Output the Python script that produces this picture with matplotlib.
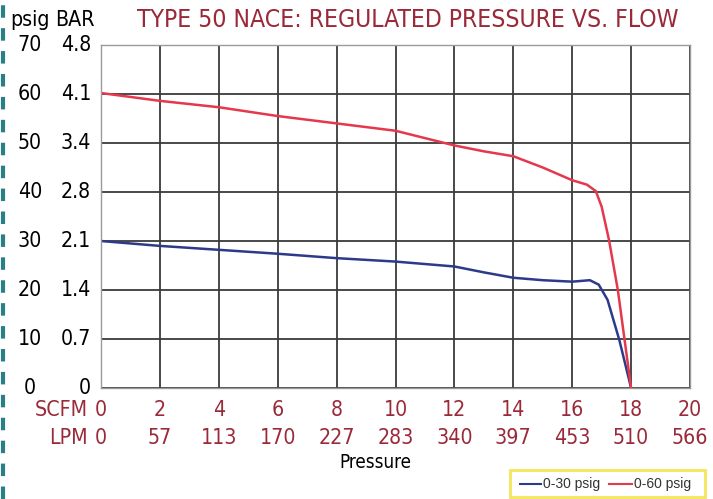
import matplotlib
matplotlib.use("Agg")
import matplotlib.pyplot as plt
from matplotlib.lines import Line2D
from matplotlib.patches import Rectangle
from matplotlib import font_manager as fm

# data
scfm_ticks = [0, 2, 4, 6, 8, 10, 12, 14, 16, 18, 20]
lpm_labels = ["0", "57", "113", "170", "227", "283", "340", "397", "453", "510", "566"]
psig_ticks = [0, 10, 20, 30, 40, 50, 60, 70]
bar_labels = ["0", "0.7", "1.4", "2.1", "2.8", "3.4", "4.1", "4.8"]

flow_30 = [0, 2, 4, 6, 8, 10, 12, 13, 14, 15, 16, 16.6, 16.9, 17.2, 17.6, 18]
psig_30 = [30, 29, 28.2, 27.4, 26.5, 25.8, 24.8, 23.6, 22.5, 22.0, 21.7, 22, 21.1, 18, 9.8, 0]
flow_60 = [0, 2, 4, 6, 8, 10, 11, 12, 13, 14, 15, 16, 16.5, 16.8, 17.0, 17.25, 17.55, 18]
psig_60 = [60.2, 58.6, 57.3, 55.5, 54.0, 52.5, 51.0, 49.5, 48.3, 47.3, 45.0, 42.4, 41.5, 40.2, 37, 30.2, 20, 0]

names = {f.name for f in fm.fontManager.ttflist}
cond = [f for f in fm.fontManager.ttflist if f.name == "DejaVu Sans" and "ondensed" in f.fname]
if "Liberation Sans Narrow" in names:
    FP = dict(family=["Liberation Sans Narrow", "DejaVu Sans"])
    K = 1.0
elif cond:
    FP = dict(family=["DejaVu Sans"], stretch="condensed")
    K = 0.9
else:
    FP = dict(family=["Liberation Sans", "DejaVu Sans"])
    K = 0.85

DARKRED = "#9a2a3a"
BLUE = "#2d3a8a"
RED = "#e5384c"

fig = plt.figure(figsize=(7.13, 4.99), dpi=100)
ax = fig.add_axes([101/713, 1-388/499, 589/713, 343/499])
ax.set_xlim(0, 20)
ax.set_ylim(0, 70)
ax.set_xticks(scfm_ticks)
ax.set_yticks(psig_ticks)
ax.grid(True, color="#3a3a3a", linewidth=1.3)
ax.set_axisbelow(True)
ax.tick_params(labelleft=False, labelbottom=False, length=0)
for s in ax.spines.values():
    s.set_color("#9a9a9a")
    s.set_linewidth(1.0)

ax.plot(flow_30, psig_30, color=BLUE, linewidth=1.8)
ax.plot(flow_60, psig_60, color=RED, linewidth=1.8)

fs = 17 * K
# y labels
for v, b in zip(psig_ticks, bar_labels):
    yp = 1 - (388 - v * 4.9) / 499
    fig.text(30/713, yp, str(v), ha="center", va="center", fontsize=fs, **FP)
    fig.text(91/713, yp, b, ha="right", va="center", fontsize=fs, **FP)
fig.text(30/713, 1-20/499, "psig", ha="center", va="center", fontsize=fs, **FP)
fig.text(75/713, 1-20/499, "BAR", ha="center", va="center", fontsize=fs, **FP)

# x labels
for v, l in zip(scfm_ticks, lpm_labels):
    xp = (101 + v * 29.45) / 713
    fig.text(xp, 1-410/499, str(v), ha="center", va="center", fontsize=fs, color=DARKRED, **FP)
    fig.text(xp, 1-438/499, l, ha="center", va="center", fontsize=fs, color=DARKRED, **FP)
fig.text(88/713, 1-410/499, "SCFM", ha="right", va="center", fontsize=fs, color=DARKRED, **FP)
fig.text(88/713, 1-438/499, "LPM", ha="right", va="center", fontsize=fs, color=DARKRED, **FP)
fig.text(375/713, 1-463/499, "Pressure", ha="center", va="center", fontsize=15 * K, color="black", **FP)

fig.text(408/713, 1-20/499, "TYPE 50 NACE: REGULATED PRESSURE VS. FLOW", ha="center", va="center",
         fontsize=19.7 * K, color=DARKRED, **FP)

# left dashed border
fig.add_artist(Line2D([3/713, 3/713], [0, 1], color="#2a7f86", linewidth=3, linestyle=(0, (3, 2.5))))

# legend
fig.add_artist(Rectangle((510/713, 1-497/499), 195/713, 27/499, facecolor="white",
                         edgecolor="#f5e65a", linewidth=2))
ly = 1 - 484/499
fig.add_artist(Line2D([520/713, 541/713], [ly, ly], color=BLUE, linewidth=1.5))
fig.text(543/713, ly, "0-30 psig", ha="left", va="center", fontsize=10, color="#333333",
         family=["Liberation Sans", "DejaVu Sans"])
fig.add_artist(Line2D([609/713, 632/713], [ly, ly], color=RED, linewidth=1.5))
fig.text(634/713, ly, "0-60 psig", ha="left", va="center", fontsize=10, color="#333333",
         family=["Liberation Sans", "DejaVu Sans"])

fig.savefig("out.png", dpi=100)
